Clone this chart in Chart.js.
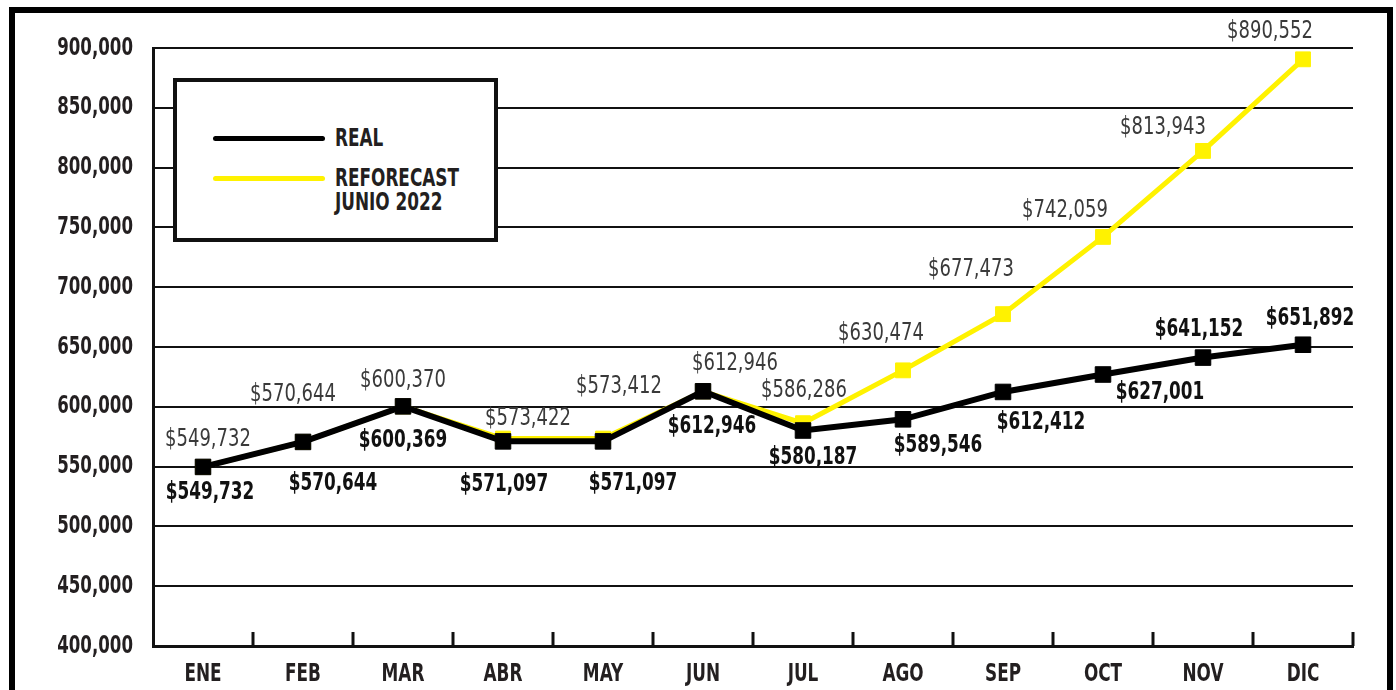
<!DOCTYPE html>
<html lang="es">
<head>
  <meta charset="UTF-8">
  <title>Real vs Reforecast Junio 2022</title>
  <script src="https://cdn.jsdelivr.net/npm/chart.js"></script>
  <style>
    body {
      margin: 0;
      background: #ffffff;
      width: 1396px;
      height: 690px;
      overflow: hidden;
      position: relative;
      font-family: 'DejaVu Sans Condensed', 'DejaVu Sans', sans-serif;
    }
    #frame {
      position: absolute;
      left: 9px;
      top: 7px;
      width: 1384px;
      height: 720px;
      box-sizing: border-box;
      border: 6px solid #000;
      pointer-events: none;
    }
    canvas {
      position: absolute;
      left: 0;
      top: 0;
    }
    #legend {
      position: absolute;
      left: 173px;
      top: 78px;
      width: 325px;
      height: 164px;
      box-sizing: border-box;
      border: 4px solid #111;
      background: #fff;
    }
    .swatch {
      position: absolute;
      left: 36px;
      width: 112px;
      height: 5px;
      border-radius: 3px;
    }
    .txt {
      position: absolute;
      left: 158px;
      font-weight: bold;
      font-size: 25px;
      line-height: 24px;
      color: #231f20;
      white-space: nowrap;
      transform: scaleX(0.75);
      transform-origin: left center;
    }
  </style>
</head>
<body>
  <div id="frame"></div>
  <canvas id="chart" width="1396" height="690"></canvas>
  <div id="legend"></div>

  <script>
    const meses = ['ENE', 'FEB', 'MAR', 'ABR', 'MAY', 'JUN', 'JUL', 'AGO', 'SEP', 'OCT', 'NOV', 'DIC'];
    const real = [549732, 570644, 600369, 571097, 571097, 612946, 580187, 589546, 612412, 627001, 641152, 651892];
    const reforecast = [549732, 570644, 600370, 573422, 573412, 612946, 586286, 630474, 677473, 742059, 813943, 890552];

    // desplazamiento de las etiquetas respecto a cada punto (px)
    const offReal = [[7, 26], [30, 42], [0, 34], [1, 43], [30, 42], [9, 35], [10, 27], [35, 26], [38, 31], [57, 18], [-4, -28], [7, -26]];
    const offRefo = [[5, -27], [-10, -47], [0, -26], [25, -20], [16, -52], [32, -28], [1, -33], [-22, -37], [-32, -45], [-38, -26], [-40, -23], [-33, -28]];

    const FAM = "'DejaVu Sans Condensed', 'DejaVu Sans', sans-serif";
    const fmt = v => v.toLocaleString('en-US');

    // texto comprimido en horizontal (la fuente original es condensada)
    function texto(ctx, s, x, y, align, font, color, sx) {
      ctx.save();
      ctx.translate(x, y);
      ctx.scale(sx, 1);
      ctx.font = font;
      ctx.fillStyle = color;
      ctx.textAlign = align;
      ctx.textBaseline = 'middle';
      ctx.fillText(s, 0, 0);
      ctx.restore();
    }

    const etiquetas = {
      id: 'etiquetas',
      afterDatasetsDraw(chart) {
        const ctx = chart.ctx;
        chart.data.datasets.forEach((ds, i) => {
          const meta = chart.getDatasetMeta(i);
          const offs = i === 0 ? offReal : offRefo;
          meta.data.forEach((pt, j) => {
            if (i === 0) {
              texto(ctx, '$' + fmt(ds.data[j]), pt.x + offs[j][0], pt.y + offs[j][1], 'center', 'bold 25px ' + FAM, '#111111', 0.75);
            } else {
              texto(ctx, '$' + fmt(ds.data[j]), pt.x + offs[j][0], pt.y + offs[j][1], 'center', '25px ' + FAM, '#3a3a3a', 0.8);
            }
          });
        });
      }
    };

    // marcas del eje x entre meses (hacia arriba) y rotulos de ambos ejes
    const ejes = {
      id: 'ejes',
      afterDraw(chart) {
        const x = chart.scales.x;
        const y = chart.scales.y;
        const ctx = chart.ctx;
        const area = chart.chartArea;
        ctx.save();
        ctx.strokeStyle = '#111';
        ctx.lineWidth = 3;
        for (let i = 1; i <= meses.length; i++) {
          const px = Math.round(x.getPixelForValue(i - 0.5));
          ctx.beginPath();
          ctx.moveTo(px, area.bottom);
          ctx.lineTo(px, area.bottom - 14);
          ctx.stroke();
        }
        ctx.restore();
        meses.forEach((m, i) => {
          texto(ctx, m, x.getPixelForValue(i), area.bottom + 28, 'center', 'bold 25px ' + FAM, '#231f20', 0.75);
        });
        y.ticks.forEach(t => {
          texto(ctx, fmt(t.value), area.left - 20, y.getPixelForValue(t.value), 'right', 'bold 25px ' + FAM, '#231f20', 0.74);
        });
      }
    };

    const chart = new Chart(document.getElementById('chart'), {
      type: 'line',
      data: {
        labels: meses,
        datasets: [
          {
            label: 'REAL',
            data: real,
            borderColor: '#000000',
            backgroundColor: '#000000',
            borderWidth: 6,
            pointStyle: 'rect',
            pointRadius: 11,
            pointBorderWidth: 1,
            tension: 0
          },
          {
            label: 'REFORECAST\nJUNIO 2022',
            data: reforecast,
            borderColor: '#fff200',
            backgroundColor: '#fff200',
            borderWidth: 5,
            pointStyle: 'rect',
            pointRadius: 10.5,
            pointBorderWidth: 1,
            tension: 0
          }
        ]
      },
      options: {
        responsive: false,
        animation: false,
        layout: { padding: { top: 48, right: 43, left: 0, bottom: 0 } },
        plugins: {
          legend: { display: false },
          tooltip: { enabled: false }
        },
        scales: {
          x: {
            offset: true,
            grid: { display: false, drawTicks: false },
            border: { display: true, color: '#111', width: 3 },
            ticks: { display: false },
            afterFit(s) { s.height = 44; }
          },
          y: {
            min: 400000,
            max: 900000,
            ticks: { stepSize: 50000, display: false },
            grid: { color: '#111', lineWidth: 2, drawTicks: false },
            border: { display: true, color: '#111', width: 3 },
            afterFit(s) { s.width = 153; }
          }
        }
      },
      plugins: [etiquetas, ejes]
    });

    // leyenda en HTML a partir de los datasets
    const leyenda = document.getElementById('legend');
    const centros = [56, 96];
    chart.data.datasets.forEach((ds, i) => {
      const sw = document.createElement('div');
      sw.className = 'swatch';
      sw.style.background = ds.borderColor;
      sw.style.top = (centros[i] - 2.5) + 'px';
      leyenda.appendChild(sw);
      ds.label.split('\n').forEach((linea, k) => {
        const t = document.createElement('div');
        t.className = 'txt';
        t.textContent = linea;
        t.style.top = (centros[i] - 12 + k * 24) + 'px';
        leyenda.appendChild(t);
      });
    });
  </script>
</body>
</html>
